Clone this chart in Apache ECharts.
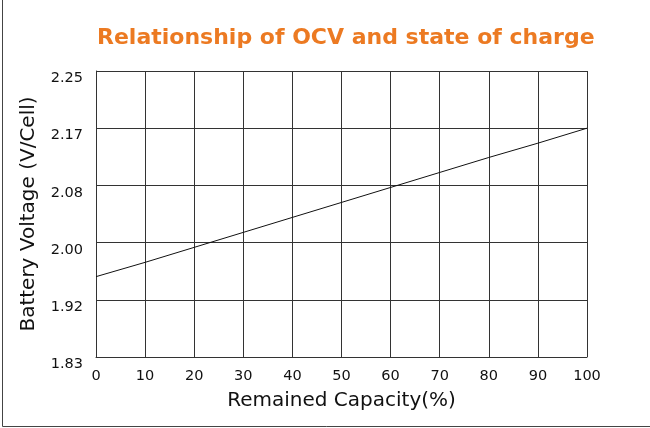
<!DOCTYPE html>
<html>
<head>
<meta charset="utf-8">
<script src="https://cdn.jsdelivr.net/npm/echarts@6/dist/echarts.min.js"></script>
<style>
  html, body { margin: 0; padding: 0; background: #fff; }
  #chart { width: 650px; height: 428px; }
</style>
</head>
<body>
<div id="chart"></div>
<script>
// remained capacity (%) and open circuit voltage
const capacity = [0, 10, 20, 30, 40, 50, 60, 70, 80, 90, 100]
const voltage = [1.948, 1.969, 1.991, 2.013, 2.035, 2.057, 2.079, 2.101, 2.123, 2.144, 2.166]
// y tick labels, evenly spaced from 1.83 to 2.25
const yTickLabels = ['1.83', '1.92', '2.00', '2.08', '2.17', '2.25']
const yMin = 1.83
const yMax = 2.25

const font = 'DejaVu Sans'
const chart = echarts.init(document.getElementById('chart'))

chart.setOption({
  animation: false,
  title: {
    text: 'Relationship of OCV and state of charge',
    left: 92,
    top: 22,
    textStyle: {
      color: '#EC7A22',
      fontFamily: font,
      fontWeight: 'bold',
      fontSize: 22,
    },
  },
  grid: {
    left: 96,
    top: 71,
    width: 491,
    height: 286,
  },
  xAxis: {
    type: 'value',
    min: 0,
    max: 100,
    interval: 10,
    name: 'Remained Capacity(%)',
    nameLocation: 'middle',
    nameGap: 34,
    nameTextStyle: { color: '#111', fontFamily: font, fontSize: 20 },
    axisLine: { show: true, lineStyle: { color: '#333', width: 1 } },
    axisTick: { show: false },
    axisLabel: { color: '#111', fontFamily: font, fontSize: 14.5, margin: 12 },
    splitLine: { show: true, lineStyle: { color: '#333', width: 1 } },
  },
  yAxis: [
    {
      // visible grid / labels: 5 equal divisions
      type: 'value',
      min: 0,
      max: 5,
      interval: 1,
      name: 'Battery Voltage (V/Cell)',
      nameLocation: 'middle',
      nameGap: 57,
      nameTextStyle: { color: '#111', fontFamily: font, fontSize: 20 },
      axisLine: { show: true, lineStyle: { color: '#333', width: 1 } },
      axisTick: { show: false },
      axisLabel: {
        color: '#111',
        fontFamily: font,
        fontSize: 14.5,
        margin: 13,
        verticalAlign: 'top',
        formatter: (v) => yTickLabels[v],
      },
      splitLine: { show: true, lineStyle: { color: '#333', width: 1 } },
    },
    {
      // voltage scale used by the line
      type: 'value',
      min: yMin,
      max: yMax,
      show: false,
    },
  ],
  graphic: [
    {
      type: 'polyline',
      shape: { points: [[2.5, 0], [2.5, 426.5], [650, 426.5]] },
      style: { stroke: '#444', lineWidth: 1, fill: null },
      silent: true,
    },
  ],
  series: [
    {
      type: 'line',
      yAxisIndex: 1,
      data: capacity.map((c, i) => [c, voltage[i]]),
      showSymbol: false,
      lineStyle: { color: '#111', width: 1 },
    },
  ],
})
</script>
</body>
</html>
